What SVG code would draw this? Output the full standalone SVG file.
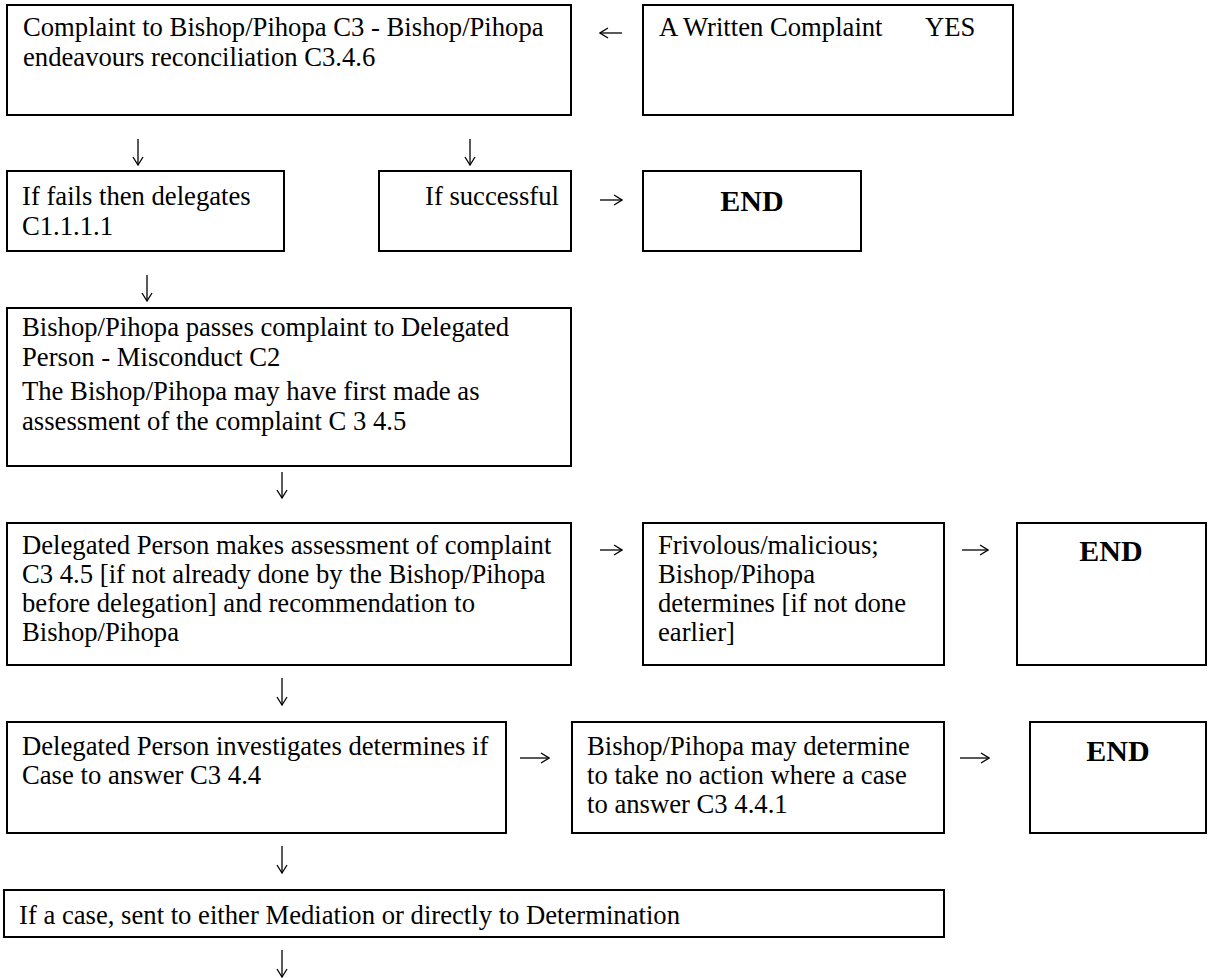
<svg xmlns="http://www.w3.org/2000/svg" width="1211" height="978" viewBox="0 0 1211 978">
<style>
.box{fill:#fff;stroke:#000;stroke-width:2}
.t{font-family:"Liberation Serif","Times New Roman",serif;font-size:26.67px;fill:#000}
.end{font-family:"Liberation Serif","Times New Roman",serif;font-size:30px;font-weight:bold;fill:#000;text-anchor:middle}
.ar{fill:none;stroke:#000;stroke-width:1.3;marker-end:url(#head)}
</style>
<defs>
<marker id="head" markerUnits="userSpaceOnUse" viewBox="0 0 10 12" refX="9" refY="6" markerWidth="10" markerHeight="12" orient="auto">
<path d="M1,1 L9,6 L1,11" fill="none" stroke="#000" stroke-width="1.3"/>
</marker>
</defs>
<rect width="1211" height="978" fill="#fff"/>
<g id="n1"><rect class="box" x="7" y="5" width="564" height="110"/>
<text class="t" x="23" y="36">Complaint to Bishop/Pihopa C3 - Bishop/Pihopa</text>
<text class="t" x="23" y="66">endeavours reconciliation C3.4.6</text></g>
<g id="n2"><rect class="box" x="643" y="5" width="370" height="110"/>
<text class="t" x="659" y="36">A Written Complaint<tspan x="925">YES</tspan></text></g>
<g id="n3"><rect class="box" x="7" y="171" width="277" height="80"/>
<text class="t" x="22" y="205">If fails then delegates</text>
<text class="t" x="22" y="235">C1.1.1.1</text></g>
<g id="n4"><rect class="box" x="379" y="171" width="192" height="80"/>
<text class="t" x="425" y="205">If successful</text></g>
<g id="n5"><rect class="box" x="643" y="171" width="218" height="80"/>
<text class="end" x="752" y="211">END</text></g>
<g id="n6"><rect class="box" x="7" y="308" width="564" height="158"/>
<text class="t" x="22" y="336">Bishop/Pihopa passes complaint to Delegated</text>
<text class="t" x="22" y="366">Person - Misconduct C2</text>
<text class="t" x="22" y="400">The Bishop/Pihopa may have first made as</text>
<text class="t" x="22" y="430">assessment of the complaint C 3 4.5</text></g>
<g id="n7"><rect class="box" x="7" y="523" width="564" height="142"/>
<text class="t" x="22" y="554">Delegated Person makes assessment of complaint</text>
<text class="t" x="22" y="583">C3 4.5 [if not already done by the Bishop/Pihopa</text>
<text class="t" x="22" y="612">before delegation] and recommendation to</text>
<text class="t" x="22" y="641">Bishop/Pihopa</text></g>
<g id="n8"><rect class="box" x="643" y="523" width="301" height="142"/>
<text class="t" x="658" y="554">Frivolous/malicious;</text>
<text class="t" x="658" y="583">Bishop/Pihopa</text>
<text class="t" x="658" y="612">determines [if not done</text>
<text class="t" x="658" y="641">earlier]</text></g>
<g id="n9"><rect class="box" x="1017" y="523" width="189" height="142"/>
<text class="end" x="1111" y="561">END</text></g>
<g id="n10"><rect class="box" x="7" y="722" width="499" height="111"/>
<text class="t" x="22" y="755">Delegated Person investigates determines if</text>
<text class="t" x="22" y="784">Case to answer C3 4.4</text></g>
<g id="n11"><rect class="box" x="572" y="722" width="372" height="111"/>
<text class="t" x="587" y="755">Bishop/Pihopa may determine</text>
<text class="t" x="587" y="784">to take no action where a case</text>
<text class="t" x="587" y="813">to answer C3 4.4.1</text></g>
<g id="n12"><rect class="box" x="1030" y="722" width="176" height="111"/>
<text class="end" x="1118" y="761">END</text></g>
<g id="n13"><rect class="box" x="4" y="890" width="940" height="47"/>
<text class="t" x="19" y="924">If a case, sent to either Mediation or directly to Determination</text></g>
<g id="connectors">
<path class="ar" d="M622,33 H600"/>
<path class="ar" d="M138,139 V165"/>
<path class="ar" d="M470,139 V165"/>
<path class="ar" d="M600,200 H622"/>
<path class="ar" d="M147,275 V301"/>
<path class="ar" d="M282,472 V498"/>
<path class="ar" d="M600,550 H622"/>
<path class="ar" d="M962,550 H988"/>
<path class="ar" d="M282,678 V705"/>
<path class="ar" d="M520,758 H549"/>
<path class="ar" d="M960,758 H989"/>
<path class="ar" d="M282,846 V873"/>
<path class="ar" d="M282,950 V977"/>
</g>
</svg>
